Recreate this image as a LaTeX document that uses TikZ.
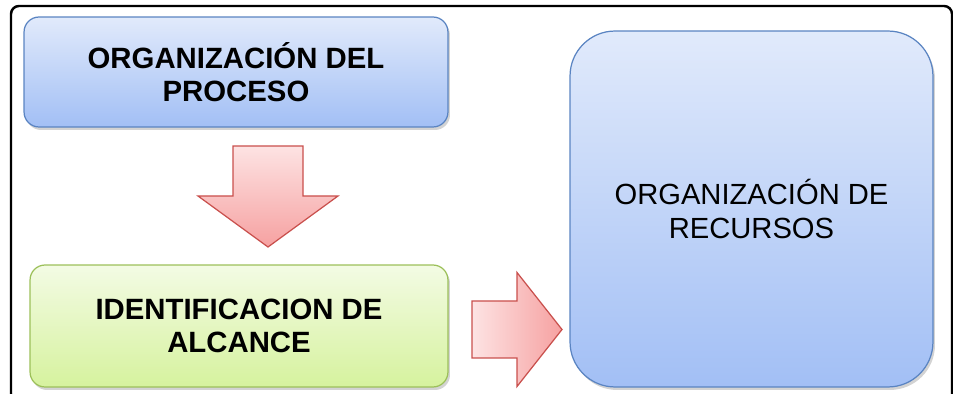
\documentclass[tikz,border=0pt]{standalone}
\usepackage{fontspec}
\setmainfont{Liberation Sans}
\usetikzlibrary{shadows}
\definecolor{blueline}{HTML}{5A84C2}
\definecolor{bluetop}{HTML}{E1EAFB}
\definecolor{bluebot}{HTML}{A2BFF5}
\definecolor{greenline}{HTML}{9CC05A}
\definecolor{greentop}{HTML}{F3FBE4}
\definecolor{greenbot}{HTML}{D6F29E}
\definecolor{redline}{HTML}{C9504D}
\definecolor{redtop}{HTML}{FDE3E3}
\definecolor{redbot}{HTML}{F6A1A1}
\tikzstyle{box}=[rectangle,align=center,line width=0.7pt,
  drop shadow={shadow xshift=0.04cm,shadow yshift=-0.06cm,opacity=0.35}]
\tikzstyle{bluebox}=[box,draw=blueline,top color=bluetop,bottom color=bluebot]
\tikzstyle{greenbox}=[box,draw=greenline,top color=greentop,bottom color=greenbot]
\tikzstyle{blockarrow}=[draw=redline,line width=0.7pt]
\def\boldtext{\bfseries\fontsize{16.7}{18.8}\selectfont}
\def\plaintext{\fontsize{16.6}{18.8}\selectfont}

\begin{document}
\begin{tikzpicture}[x=0.02cm,y=-0.02cm]
    \useasboundingbox (0,0) rectangle (953,394);

    % outer frame, cut at the right and bottom
    \draw[line width=1.4pt,rounded corners=0.16cm] (11,6) rectangle (952,402);

    \node[bluebox,rounded corners=0.3cm,minimum width=8.48cm,minimum height=2.2cm,font=\boldtext]
        (proceso) at (236,72) {ORGANIZACIÓN DEL\\PROCESO};
    \node[greenbox,rounded corners=0.3cm,minimum width=8.36cm,minimum height=2.44cm,font=\boldtext]
        (alcance) at (239,326) {IDENTIFICACION DE\\ALCANCE};
    \node[bluebox,rounded corners=0.9cm,minimum width=7.26cm,minimum height=7.12cm,font=\plaintext]
        (recursos) at (751.5,209) {ORGANIZACIÓN DE\\RECURSOS};

    \coordinate (down) at (268,146);
    \coordinate (right) at (472,329.5);

    \draw[blockarrow,top color=redtop,bottom color=redbot]
        (down) ++(-35,0) -- ++(70,0) -- ++(0,50) -- ++(35,0) -- ++(-70,51)
        -- ++(-70,-51) -- ++(35,0) -- cycle;
    \draw[blockarrow,left color=redtop,right color=redbot]
        (right) ++(0,-28.5) -- ++(45,0) -- ++(0,-28.5) -- ++(45,57)
        -- ++(-45,57) -- ++(0,-28.5) -- ++(-45,0) -- cycle;
\end{tikzpicture}
\end{document}
